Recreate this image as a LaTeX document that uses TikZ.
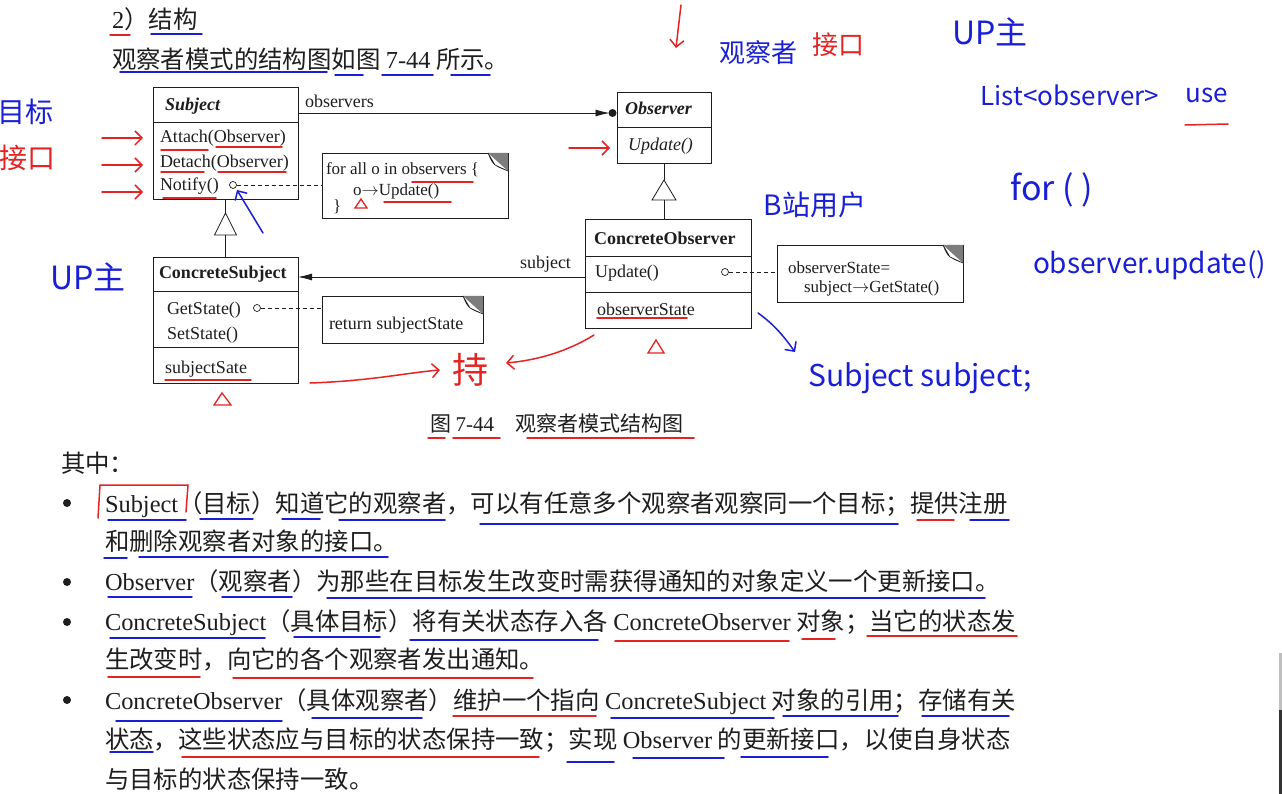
\documentclass[tikz,border=0pt]{standalone}
\usepackage{fontspec}
\setmainfont{Liberation Serif}
\newfontfamily\cjk{Noto Sans CJK SC}
\usetikzlibrary{arrows.meta}
\definecolor{hb}{RGB}{25,30,215}
\definecolor{hr}{RGB}{230,35,35}
\definecolor{ink}{RGB}{30,30,30}
\definecolor{notegray}{RGB}{125,125,125}
\newcommand{\en}[1]{{\rmfamily #1}}
\begin{document}
\begin{tikzpicture}[x=1pt,y=-1pt,
  every node/.style={inner sep=0pt, outer sep=0pt},
  box/.style={draw=ink, line width=0.8pt, rectangle},
  uml/.style={draw=ink, line width=0.8pt},
  dl/.style={draw=ink, line width=0.8pt, dash pattern=on 4pt off 3pt},
  lbl/.style={anchor=base west, font=\fontsize{18}{18}\selectfont, text=ink},
  notetxt/.style={anchor=base west, font=\fontsize{17}{17}\selectfont, text=ink},
  lblb/.style={anchor=base west, font=\bfseries\fontsize{18}{18}\selectfont, text=ink},
  lblbi/.style={anchor=base west, font=\bfseries\itshape\fontsize{18}{18}\selectfont, text=ink},
  lbli/.style={anchor=base west, font=\itshape\fontsize{18}{18}\selectfont, text=ink},
  body/.style={anchor=base west, font=\fontsize{24.4}{25}\selectfont, text=ink},
  captxt/.style={anchor=base west, font=\fontsize{21}{21}\selectfont, text=ink},
  hand/.style={font=\cjk\fontsize{28}{28}\selectfont},
  bu/.style={hb, line width=1.5pt, line cap=round},
  ru/.style={hr, line width=1.5pt, line cap=round},
  assocdot/.style={circle, fill=ink, minimum size=8pt},
  portc/.style={circle, draw=ink, fill=white, line width=0.7pt, minimum size=7pt},
  bulletdot/.style={circle, fill=ink, minimum size=8pt},
  barb/.style={-{Straight Barb[length=7pt,width=14pt]}},
]
\useasboundingbox (0,0) rectangle (1282,794);
\fill[white] (0,0) rectangle (1282,794);

% ---------- headings ----------
\node[body] (h1) at (112,29) {2\cjk）结构};
\node[body] (h2) at (112,69) {\cjk 观察者模式的结构图如图 \en{7-44} 所示。};

% ---------- UML boxes ----------
\node[box, minimum width=145pt, minimum height=112pt] (subj) at (225.5,143) {};
\node[box, minimum width=94pt, minimum height=71pt] (obs) at (664,127.5) {};
\node[box, minimum width=145pt, minimum height=126pt] (csubj) at (225.5,320) {};
\node[box, minimum width=166pt, minimum height=109pt] (cobs) at (668,273.5) {};
\node[box, minimum width=186pt, minimum height=65pt] (n1) at (415,185.5) {};
\node[box, minimum width=161pt, minimum height=47pt] (n2) at (402.5,319.5) {};
\node[box, minimum width=186pt, minimum height=57pt] (n3) at (870,273.5) {};

\draw[uml] (subj.west |- 0,122) -- (subj.east |- 0,122);
\draw[uml] (obs.west |- 0,127) -- (obs.east |- 0,127);
\draw[uml] (csubj.west |- 0,291) -- (csubj.east |- 0,291);
\draw[uml] (csubj.west |- 0,347) -- (csubj.east |- 0,347);
\draw[uml] (cobs.west |- 0,256) -- (cobs.east |- 0,256);
\draw[uml] (cobs.west |- 0,292) -- (cobs.east |- 0,292);

% note folded corners
\foreach \n in {n1,n2,n3}{
  \fill[notegray] ([xshift=-20pt]\n.north east) -- (\n.north east) -- ([yshift=-18pt]\n.north east) -- cycle;
  \filldraw[fill=white, draw=ink, line width=0.6pt] ([xshift=-20pt]\n.north east)
     .. controls ([xshift=-15pt,yshift=-12pt]\n.north east) .. ([yshift=-18pt]\n.north east)
     -- ([xshift=-13pt,yshift=-12pt]\n.north east) -- cycle;
}

% box texts
\node[lblbi] (tsubj) at (165,111) {Subject};
\node[lbl] (ta) at (160,143) {Attach(Observer)};
\node[lbl] (td) at (160,168) {Detach(Observer)};
\node[lbl] (tn) at (160,191) {Notify()};
\node[lblbi] (tobs) at (625,115) {Observer};
\node[lbli] (tou) at (628,151) {Update()};
\node[notetxt] (n1a) at (326,175) {for all o in observers \{};
\node[notetxt] (n1b) at (353,196) {o$\rightarrow$Update()};
\node[notetxt] (n1c) at (333,212) {\}};
\node[lblb] (tcs) at (159,279) {ConcreteSubject};
\node[lbl] (tgs) at (167,314) {GetState()};
\node[lbl] (tss) at (167,339) {SetState()};
\node[lbl] (tsst) at (165,373) {subjectSate};
\node[lbl] (n2a) at (329,329) {return subjectState};
\node[lblb] (tco) at (594,245) {ConcreteObserver};
\node[lbl] (tcu) at (595,278) {Update()};
\node[lbl] (tos) at (597,316) {observerState};
\node[notetxt] (n3a) at (788,273) {observerState=};
\node[notetxt] (n3b) at (804,293) {subject$\rightarrow$GetState()};
\node[lbl] (lobs) at (305,108) {observers};
\node[lbl] (lsub) at (520,269) {subject};

% ports + dashed links
\node[portc] (p1) at (233,185) {};
\node[portc] (p2) at (257,308) {};
\node[portc] (p3) at (725,272) {};
\draw[dl] (p1.east) -- (n1.west |- p1);
\draw[dl] (p2.east) -- (n2.west |- p2);
\draw[dl] (p3.east) -- (n3.west |- p3);

% associations
\coordinate (dc) at (612.5,113);
\draw[uml, -{Latex[length=14pt,width=7pt]}] (subj.east |- dc) -- ([xshift=-3pt]dc);
\node[assocdot] (dotn) at (dc) {};
\draw[uml, -{Latex[length=14pt,width=7pt]}] (cobs.west |- 0,277) -- (csubj.east |- 0,277);

% inheritance
\coordinate (t1) at (subj.south |- 0,213);
\draw[uml] (subj.south) -- (t1);
\draw[uml, fill=white] (t1) -- ++(-11,22) -- ++(22,0) -- cycle;
\draw[uml] ([yshift=-22pt]t1) -- (csubj.north);
\coordinate (t2) at (obs.south |- 0,180);
\draw[uml] (obs.south) -- (t2);
\draw[uml, fill=white] (t2) -- ++(-12,20) -- ++(24,0) -- cycle;
\draw[uml] ([yshift=-20pt]t2) -- (t2 |- cobs.north);

% caption
\node[captxt] (cap) at (430,431) {\cjk 图 \en{7-44}\quad 观察者模式结构图};

% ---------- body text ----------
\node[body] (l0) at (61,472) {\cjk 其中：};
\node[bulletdot] (b1) at (67,503) {};
\node[bulletdot] (b2) at (67,582) {};
\node[bulletdot] (b3) at (67,622) {};
\node[bulletdot] (b4) at (67,700) {};
\node[body] (l1) at (105,512) {Subject\cjk（目标）知道它的观察者，可以有任意多个观察者观察同一个目标；提供注册};
\node[body] (l2) at (105,550) {\cjk 和删除观察者对象的接口。};
\node[body] (l3) at (105,590) {Observer\cjk（观察者）为那些在目标发生改变时需获得通知的对象定义一个更新接口。};
\node[body] (l4) at (105,630) {ConcreteSubject\cjk（具体目标）将有关状态存入各 \en{ConcreteObserver} 对象；当它的状态发};
\node[body] (l5) at (105,668) {\cjk 生改变时，向它的各个观察者发出通知。};
\node[body] (l6) at (105,709) {ConcreteObserver\cjk（具体观察者）维护一个指向 \en{ConcreteSubject} 对象的引用；存储有关};
\node[body] (l7) at (105,748) {\cjk 状态，这些状态应与目标的状态保持一致；实现 \en{Observer} 的更新接口，以使自身状态};
\node[body] (l8) at (105,788) {\cjk 与目标的状态保持一致。};

% ---------- handwritten annotations ----------
\node[hand, hb] (w1) at (26,112) {目标};
\node[hand, hr] (w2) at (27,158) {接口};
\foreach \yy in {138,165,192} \draw[ru, barb] (102,\yy) -- (143,\yy);
\draw[ru, barb] (681,5) -- (676,48);
\node[hand, hb, font=\cjk\fontsize{26}{26}\selectfont] (w3) at (758,53) {观察者};
\node[hand, hr, font=\cjk\fontsize{26}{26}\selectfont] (w4) at (838,45) {接口};
\node[hand, hb, font=\cjk\fontsize{32}{32}\selectfont] (w5) at (990,32) {UP主};
\node[hand, hb, font=\cjk\fontsize{26}{26}\selectfont] (w6) at (1070,95) {List<observer>};
\node[hand, hb, font=\cjk\fontsize{26}{26}\selectfont] (w7) at (1207,95) {use};
\draw[ru] (1185,125) -- (1228,124);
\node[hand, hb, font=\cjk\fontsize{34}{34}\selectfont] (w8) at (1052,190) {for ( )};
\node[hand, hb] (w9) at (815,205) {B站用户};
\node[hand, hb, anchor=west, font=\cjk\fontsize{28}{28}\selectfont] (w10) at (1033,265) {observer.update()};
\node[hand, hb, font=\cjk\fontsize{32}{32}\selectfont] (w11) at (88,277) {UP主};
\draw[bu, barb] (263,233) -- (237,190);
\draw[ru, barb] (310,383) .. controls (370,381) and (405,373) .. (440,370);
\node[hand, hr, font=\cjk\fontsize{36}{36}\selectfont] (w12) at (470,370) {持};
\draw[ru, barb] (594,335) .. controls (570,350) and (540,360) .. (506,363);
\draw[ru, line width=1.3pt] (222,393) -- (214,405) -- (231,405) -- cycle;
\draw[ru, line width=1.3pt] (656,340) -- (648,353) -- (664,353) -- cycle;
\draw[ru, line width=1.3pt] (361,199) -- (355,208) -- (367,208) -- cycle;
\draw[bu, barb] (758,313) .. controls (775,325) and (785,338) .. (795,352);
\node[hand, hb, font=\cjk\fontsize{30}{30}\selectfont] (w13) at (920,378) {Subject subject;};
\draw[ru, barb] (569,148) -- (610,148);
\draw[ru] (98,518) -- (100,485) -- (188,485) -- (186,512);

% underlines
\foreach \a/\b/\c in {161/208/150,216/282/147,161/204/172,218/286/172,163/216/198,412/473/182,384/451/202,165/251/380,597/687/318,
  110/130/35,428/445/438,453/500/438,527/694/438,917/954/520,615/789/641,802/835/639,867/1017/636,108/200/677,233/533/678,
  453/596/716,182/539/757}
  \draw[ru] (\a,\c) -- (\b,\c);
\foreach \a/\b/\c in {151/202/34,120/327/72,335/363/75,382/433/75,451/490/75,
  108/186/520,200/253/519,282/320/519,339/445/520,480/898/524,970/1009/520,104/127/558,139/388/557,
  108/192/597,222/292/597,327/985/598,110/265/638,294/380/637,410/598/640,116/282/721,312/422/718,
  611/774/718,783/898/716,922/1009/716,110/153/752,567/614/762,633/724/758,741/828/757}
  \draw[bu] (\a,\c) -- (\b,\c);

% screen edge
\fill[black!25] (1279,653) rectangle (1282,710);
\fill[black!80] (1279,710) rectangle (1282,794);
\end{tikzpicture}
\end{document}
